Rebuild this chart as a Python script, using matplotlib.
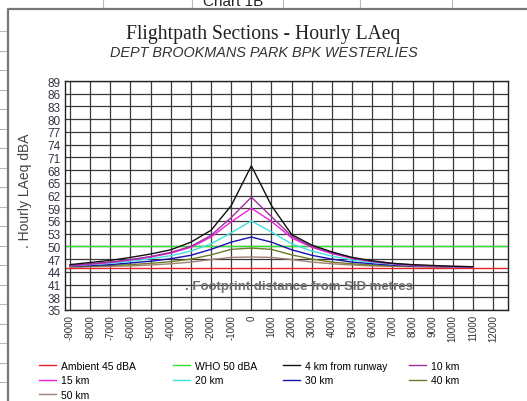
import matplotlib.pyplot as plt
from matplotlib.lines import Line2D

# distances along the footprint (metres)
dist = [-9000, -8000, -7000, -6000, -5000, -4000, -3000, -2000, -1000, 0,
        1000, 2000, 3000, 4000, 5000, 6000, 7000, 8000, 9000, 10000, 11000]
tick_dist = list(range(-9000, 12001, 1000))
y_ticks = list(range(35, 90, 3))

ambient = 45
who = 50
km4 = [45.7, 46.2, 46.7, 47.4, 48.2, 49.2, 51.0, 53.8, 59.6, 69.0, 59.6,
       52.8, 50.3, 48.7, 47.4, 46.6, 46.0, 45.7, 45.5, 45.3, 45.2]
km10 = [45.5, 45.9, 46.3, 46.9, 47.6, 48.6, 50.0, 52.6, 56.8, 61.6, 57.0,
        52.4, 50.0, 48.5, 47.3, 46.5, 46.0, 45.6, 45.4, 45.3, 45.2]
km15 = [45.4, 45.8, 46.2, 46.8, 47.5, 48.4, 49.8, 52.2, 55.8, 59.0, 55.9,
        52.0, 49.8, 48.3, 47.2, 46.4, 45.9, 45.5, 45.3, 45.2, 45.1]
km20 = [45.4, 45.7, 46.0, 46.5, 47.1, 47.8, 48.9, 50.6, 53.2, 56.0, 53.4,
        50.6, 48.9, 47.7, 46.8, 46.2, 45.8, 45.5, 45.3, 45.2, 45.1]
km30 = [45.3, 45.5, 45.7, 46.1, 46.5, 47.1, 47.9, 49.3, 51.0, 52.2, 51.0,
        49.2, 47.9, 47.0, 46.3, 45.9, 45.6, 45.4, 45.3, 45.2, 45.1]
km40 = [45.2, 45.3, 45.5, 45.7, 46.0, 46.4, 47.0, 48.0, 49.3, 49.6, 49.3,
        48.0, 47.0, 46.3, 45.9, 45.6, 45.4, 45.3, 45.2, 45.1, 45.1]
km50 = [45.1, 45.2, 45.3, 45.4, 45.6, 45.9, 46.3, 46.9, 47.4, 47.5, 47.4,
        46.9, 46.3, 45.9, 45.6, 45.4, 45.3, 45.2, 45.1, 45.1, 45.0]

plt.rcParams['font.family'] = ['Liberation Sans', 'DejaVu Sans']

W, H = 527, 402
fig = plt.figure(figsize=(W / 100, H / 100), dpi=100)

# spreadsheet cells behind the chart object
bg = fig.add_axes([0, 0, 1, 1])
bg.set_xlim(0, W)
bg.set_ylim(H, 0)
bg.axis('off')
for x in [103, 192, 283, 360, 452]:
    bg.plot([x, x], [0, 9], color='#b8b8b8', lw=0.8)
for y in [32, 51.5, 71, 90.5, 110, 129.5, 149, 168.5, 188, 207.5, 227,
          246.5, 266, 285.5, 305, 324.5, 344, 363.5, 383]:
    bg.plot([0, 7], [y, y], color='#b8b8b8', lw=0.8)
bg.text(233, 2, 'Chart 1B', ha='center', va='center', fontsize=11, color='#222222')
bg.plot([7.5, 7.5, W], [H, 9.5, 9.5], color='#777777', lw=1.6)

fig.text(0.5, 1 - 34 / H, 'Flightpath Sections - Hourly LAeq',
         family=['Liberation Serif', 'DejaVu Serif'], fontsize=14.1,
         ha='center', va='center', color='#222222')
fig.text(0.5, 1 - 53 / H, 'DEPT BROOKMANS PARK BPK WESTERLIES', style='italic',
         fontsize=10.4, ha='center', va='center', color='#333333')

ax = fig.add_axes([65 / W, 1 - 311 / H, 443 / W, 229 / H])
ax.set_xlim(-9250, 12740)
ax.set_ylim(35, 89)
ax.set_xticks(tick_dist)
ax.set_xticklabels([str(v) for v in tick_dist], rotation=90, fontsize=7,
                   color='#333333', va='top')
ax.set_yticks(y_ticks)
ax.set_yticklabels([str(v) for v in y_ticks], fontsize=8.5, color='#333344')
ax.tick_params(length=0, pad=3)
ax.grid(True, color='#3a3a3a', lw=0.9)
for s in ax.spines.values():
    s.set_color('#222222')
    s.set_linewidth(1)

lw = 1.0
ax.axhline(ambient, color='#e8202a', lw=lw)
ax.axhline(who, color='#30e030', lw=lw)
ax.plot(dist, km50, color='#a08070', lw=lw)
ax.plot(dist, km40, color='#707a28', lw=lw)
ax.plot(dist, km30, color='#1a10b0', lw=lw)
ax.plot(dist, km20, color='#40e0e0', lw=lw)
ax.plot(dist, km15, color='#f020e0', lw=lw)
ax.plot(dist, km10, color='#a030a0', lw=lw)
ax.plot(dist, km4, color='#111111', lw=lw)

ax.text(2370, 40.7, '. Footprint distance from SID metres', fontsize=9.5,
        weight='bold', color='#6e6e6e', ha='center', va='center')
fig.text(25 / W, 1 - 191 / H, '. Hourly LAeq dBA', rotation=90, fontsize=10,
         color='#444444', ha='center', va='center')

# legend, one block per column so each starts where it should
columns = [
    (39, [('Ambient 45 dBA', '#e8202a'), ('15 km', '#f020e0'), ('50 km', '#a08070')]),
    (173, [('WHO 50 dBA', '#30e030'), ('20 km', '#40e0e0')]),
    (283, [('4 km from runway', '#111111'), ('30 km', '#1a10b0')]),
    (409, [('10 km', '#a030a0'), ('40 km', '#707a28')]),
]
for x0, items in columns:
    handles = [Line2D([], [], color=c, lw=1.0) for _, c in items]
    fig.legend(handles, [t for t, _ in items], loc='upper left',
               bbox_to_anchor=(x0 / W, 1 - 362 / H), frameon=False,
               fontsize=7.5, handlelength=1.6, handletextpad=0.5,
               labelspacing=0.42, borderaxespad=0, borderpad=0)

fig.savefig('out.png', dpi=100)
